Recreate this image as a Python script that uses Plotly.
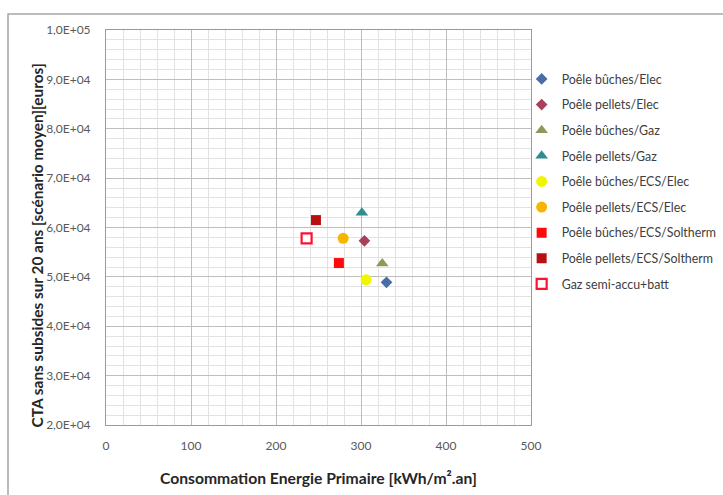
import plotly.graph_objects as go

# Heating scenarios: primary energy use vs 20-year total cost
series_names = [
    "Poêle bûches/Elec",
    "Poêle pellets/Elec",
    "Poêle bûches/Gaz",
    "Poêle pellets/Gaz",
    "Poêle bûches/ECS/Elec",
    "Poêle pellets/ECS/Elec",
    "Poêle bûches/ECS/Soltherm",
    "Poêle pellets/ECS/Soltherm",
    "Gaz semi-accu+batt",
]
energy_kwh = [330, 304, 325, 301, 306, 279, 274, 247, 236]
cost_eur = [48900, 57300, 52700, 63000, 49400, 57800, 52800, 61500, 57800]

marker_symbols = ["diamond", "diamond", "triangle-up", "triangle-up",
                  "circle", "circle", "square", "square", "square-open"]
marker_colors = ["#4A6CA8", "#A8405C", "#8C9A5A", "#2F8C92",
                 "#F2F500", "#F7B500", "#FF0A0A", "#B81010", "#FF1030"]
marker_sizes = [9, 9, 11, 11, 11, 11, 10, 10, 10]

x_ticks = [0, 100, 200, 300, 400, 500]
y_ticks = [20000, 30000, 40000, 50000, 60000, 70000, 80000, 90000, 100000]


def sci_label(v):
    # "1,0E+05" style: comma decimal, two-digit exponent
    s = f"{v:.1E}"
    mant, exp = s.split("E")
    sign = exp[0]
    return f"{mant.replace('.', ',')}E{sign}{int(exp[1:]):02d}"


y_ticktext = [sci_label(v) for v in y_ticks]

fig = go.Figure()
for i, name in enumerate(series_names):
    is_open = marker_symbols[i].endswith("open")
    fig.add_trace(go.Scatter(
        x=[energy_kwh[i]], y=[cost_eur[i]],
        mode="markers", name=name, legendgroup=f"g{i}",
        marker=dict(
            symbol="square" if is_open else marker_symbols[i],
            size=marker_sizes[i],
            color="#FFFFFF" if is_open else marker_colors[i],
            line=dict(color=marker_colors[i], width=2.2 if is_open else 0),
        ),
    ))

font_family = "Lato, 'Open Sans', sans-serif"

fig.update_layout(
    width=723, height=495,
    margin=dict(l=106, r=192, t=30, b=70, autoexpand=False),
    paper_bgcolor="white", plot_bgcolor="white",
    font=dict(family=font_family, color="#595959", size=12),
    showlegend=True,
    legend=dict(
        x=0.978, xanchor="left", y=0.913, yanchor="top",
        font=dict(family=font_family, size=12.4, color="#404040"),
        tracegroupgap=6.5, itemwidth=30, bgcolor="rgba(0,0,0,0)",
    ),
    xaxis=dict(
        range=[0, 500], tickvals=x_ticks, ticktext=[str(v) for v in x_ticks],
        showgrid=True, gridcolor="#BDBDBD", gridwidth=1,
        minor=dict(dtick=20, showgrid=True, gridcolor="#E2E2E2", gridwidth=1),
        showline=True, linecolor="#9A9A9A", linewidth=1, mirror=True,
        zeroline=False, ticks="", ticklabelstandoff=10,
        tickfont=dict(size=12, color="#595959"),
    ),
    yaxis=dict(
        range=[20000, 100000], tickvals=y_ticks, ticktext=y_ticktext,
        showgrid=True, gridcolor="#BDBDBD", gridwidth=1,
        minor=dict(dtick=2000, showgrid=True, gridcolor="#E2E2E2", gridwidth=1),
        showline=True, linecolor="#9A9A9A", linewidth=1, mirror=True,
        zeroline=False, ticks="", ticklabelstandoff=12,
        tickfont=dict(size=12, color="#595959"),
    ),
    annotations=[
        dict(text="<b>Consommation Energie Primaire [kWh/m².an]</b>",
             xref="paper", yref="paper", x=0.5, y=-0.133,
             xanchor="center", yanchor="middle", showarrow=False,
             font=dict(family=font_family, size=15.7, color="#262626")),
        dict(text="<b>CTA sans subsides sur 20 ans [scénario moyen][euros]</b>",
             xref="paper", yref="paper", x=-0.162, y=0.455, textangle=-90,
             xanchor="center", yanchor="middle", showarrow=False,
             font=dict(family=font_family, size=15.4, color="#262626")),
    ],
    shapes=[
        # outer chart frame
        dict(type="rect", xref="paper", yref="paper",
             x0=-98 / 425, x1=1.5, y0=-0.3, y1=1 + 16 / 395,
             line=dict(color="#A6A6A6", width=1.5), layer="below"),
    ],
)

fig.write_html("out.html")
